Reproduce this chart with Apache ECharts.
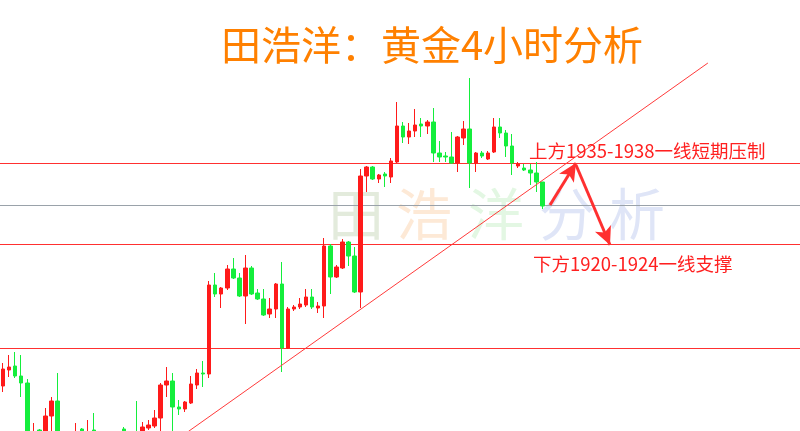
<!DOCTYPE html>
<html>
<head>
<meta charset="utf-8">
<script src="https://cdn.jsdelivr.net/npm/echarts@6/dist/echarts.min.js"></script>
<style>
html,body{margin:0;padding:0;background:#fff;}
#chart{width:800px;height:431px;}
</style>
</head>
<body>
<div id="chart"></div>
<script>
// ---- data (4-hour gold candles: [open, close, low, high]) ----
const candles = [
[1892.8,1896.2,1891.6,1897.4],[1896,1896.6,1894.6,1899],[1896.8,1894.8,1894.4,1899.6],[1894.8,1893.4,1890.6,1899],
[1893.4,1879,1878,1894.2],[1881,1883,1880,1885.4],[1884,1882,1881,1884.2],[1882,1886.8,1881,1888.4],
[1886.8,1889.8,1883,1890.6],[1889.8,1881,1880,1895.4],[1879,1877,1876,1882],[1880,1881,1879,1882.4],
[1881,1883,1880,1885.4],[1884.2,1882,1881,1884.4],[1881,1883.2,1880,1886],[1884,1882.4,1881,1887.4],
[1881,1879,1878,1882],[1879,1881,1877.6,1882.6],[1879.6,1880.4,1878.4,1882.8],[1882,1880,1879,1883],
[1884.2,1882.4,1881,1884.6],[1881,1882.6,1880,1883],[1883.4,1881,1880,1889.8],[1882.8,1884.6,1882,1885.6],
[1884.4,1885,1884,1886],[1884.8,1886.4,1884.4,1888],[1886.4,1893,1883.6,1893.4],[1893,1893.8,1890.6,1896.6],
[1893.8,1888.6,1883.6,1895.4],[1888.6,1888.2,1887,1890],[1888.2,1889.6,1887.6,1889.8],[1889.4,1893.2,1889.2,1894.8],
[1893,1895.4,1892.2,1896.2],[1895.4,1895.2,1892.6,1897.8],[1895.2,1913,1894.4,1913.8],[1913,1911.2,1910.6,1915.4],
[1911.2,1912.4,1908.4,1912.6],[1912.4,1916.2,1912,1917],[1916.2,1914.4,1914.2,1918.4],[1914.4,1910.8,1910.6,1915.4],
[1910.8,1916.4,1905.2,1919],[1916.4,1911.2,1911,1916.8],[1911.4,1910.2,1910,1912.2],[1910.2,1907,1906.8,1912.2],
[1907.2,1908.2,1906.4,1910.4],[1908.2,1913.2,1906.4,1913.4],[1913.2,1900.4,1895.6,1917.6],[1900.4,1908.2,1900.2,1908.6],
[1908.2,1908.6,1907.8,1909],[1908.6,1909.2,1908.2,1910.4],[1909,1910.6,1908.6,1912.2],[1910.6,1908.6,1908.2,1912.2],
[1908.4,1908.8,1907.4,1909.6],[1908.8,1920.8,1906.4,1922.4],[1920.8,1914.6,1911.2,1921.2],[1914.6,1916.6,1914.4,1917],
[1916.4,1921.6,1916.2,1922.2],[1921.6,1918.8,1916.8,1921.8],[1918.8,1911.6,1911.4,1920.6],[1911.6,1934.8,1908.4,1936.2],
[1934.8,1936.6,1931.6,1936.8],[1936.6,1934.2,1934,1936.8],[1934.2,1935,1933.4,1935.2],[1935.2,1934.8,1932.6,1935.6],
[1934.6,1937.8,1933.4,1938.4],[1937.6,1944.8,1937.4,1949.6],[1944.8,1942.6,1941.4,1945.6],[1942.6,1943.8,1941.2,1945.4],
[1943.8,1945,1942.6,1948.2],[1945.2,1944.8,1942.6,1946.4],[1944.8,1945.6,1943.2,1946],[1945.6,1939.4,1937.6,1948.4],
[1939.4,1938.6,1937.6,1941.8],[1938.8,1938.6,1937.6,1939.6],[1938.6,1937.4,1937.2,1943.6],[1937.4,1942.6,1935.6,1942.8],
[1942.4,1944.2,1941,1945.8],[1944.2,1937.4,1932.4,1954.4],[1937.4,1939.4,1935.6,1939.6],[1939.4,1938.8,1938.4,1939.8],
[1938.2,1939.4,1938,1939.8],[1939.6,1944.6,1939.4,1946.4],[1944.6,1943.4,1942.4,1946.4],[1943.4,1940.8,1938.6,1944],
[1940.8,1937.4,1935,1943.2],[1936.8,1937.2,1936.4,1937.6],[1936.4,1936,1935.8,1937.2],[1936,1935.4,1933,1937.2],
[1935.4,1933.6,1931.6,1937.6],[1933.6,1928.8,1928.2,1933.6]
];
const slotCount = 132;                       // candle slots across the chart (incl. empty right side)
const categories = Array.from({length: slotCount}, (_, i) => 'K' + (i + 1));
const resistanceLevels = [1937.3, 1921.2, 1900.3]; // red horizontal levels
const currentPrice = 1928.9;                 // grey line
const trendLine = [[30.57, 1883.7], [116.3, 1957.4]];
const arrowUp = [[90.25, 1929.0], [94.54, 1937.4]];
const arrowDown = [[94.54, 1937.0], [100.15, 1921.0]];
const titleText = '田浩洋：黄金4小时分析';
const noteUpper = '上方1935-1938一线短期压制';
const noteLower = '下方1920-1924一线支撑';
const watermark = [['田', '#e3ebdc'], ['浩', '#fde9d6'], ['洋', '#e3f7e3'], ['分', '#dfe5f7'], ['析', '#dfe5f7']];

const FONT = '"Noto Sans CJK SC", "Noto Sans", sans-serif';
const RED = '#ff1a1a';
const GREEN = '#14ee3c';

const chart = echarts.init(document.getElementById('chart'), null, {renderer: 'canvas'});

const wmX = [356, 424, 496, 567, 637];
const graphics = watermark.map((w, k) => ({
  type: 'text', z: 0, left: null,
  style: {x: wmX[k], y: 214, text: w[0], fill: w[1], font: '56px ' + FONT,
          textAlign: 'center', textVerticalAlign: 'middle'}
}));
graphics.push({
  type: 'text', z: 10,
  style: {x: 432, y: 45, text: titleText, fill: '#ff8000', font: '40px ' + FONT,
          textAlign: 'center', textVerticalAlign: 'middle'}
});
graphics.push({
  type: 'text', z: 10,
  style: {x: 529, y: 150.5, text: noteUpper, fill: '#ff2020', font: '18.5px ' + FONT,
          textAlign: 'left', textVerticalAlign: 'middle'}
});
graphics.push({
  type: 'text', z: 10,
  style: {x: 533, y: 263.5, text: noteLower, fill: '#ff2020', font: '18.5px ' + FONT,
          textAlign: 'left', textVerticalAlign: 'middle'}
});

const option = {
  animation: false,
  backgroundColor: '#ffffff',
  grid: {left: 0, right: 0, top: 0, bottom: 0},
  xAxis: [
    {type: 'category', data: categories, boundaryGap: true, show: false},
    {type: 'value', min: -0.5, max: slotCount - 0.5, show: false}
  ],
  yAxis: {type: 'value', min: 1883.8, max: 1970, show: false, scale: true, splitLine: {show: false}},
  graphic: graphics,
  series: [
    {
      type: 'candlestick', xAxisIndex: 0, barWidth: 4, z: 3, clip: true,
      data: candles,
      itemStyle: {color: RED, color0: GREEN, borderColor: RED, borderColor0: GREEN, borderWidth: 1},
      markLine: {
        silent: true, symbol: ['none', 'none'], label: {show: false}, z: 2,
        data: resistanceLevels.map(v => ({yAxis: v, lineStyle: {color: '#ff3030', width: 1, type: 'solid'}}))
          .concat([{yAxis: currentPrice, lineStyle: {color: '#9aa2aa', width: 1, type: 'solid'}}])
      }
    },
    {
      type: 'line', xAxisIndex: 1, data: trendLine, symbol: 'none', z: 4,
      lineStyle: {color: '#ff3a3a', width: 1},
      markLine: {
        silent: true, symbol: ['none', 'arrow'], symbolSize: [13, 18], label: {show: false},
        lineStyle: {color: '#ff3030', width: 3, type: 'solid'},
        data: [
          [{coord: arrowUp[0]}, {coord: arrowUp[1]}],
          [{coord: arrowDown[0]}, {coord: arrowDown[1]}]
        ]
      }
    }
  ]
};
chart.setOption(option);
</script>
</body>
</html>
